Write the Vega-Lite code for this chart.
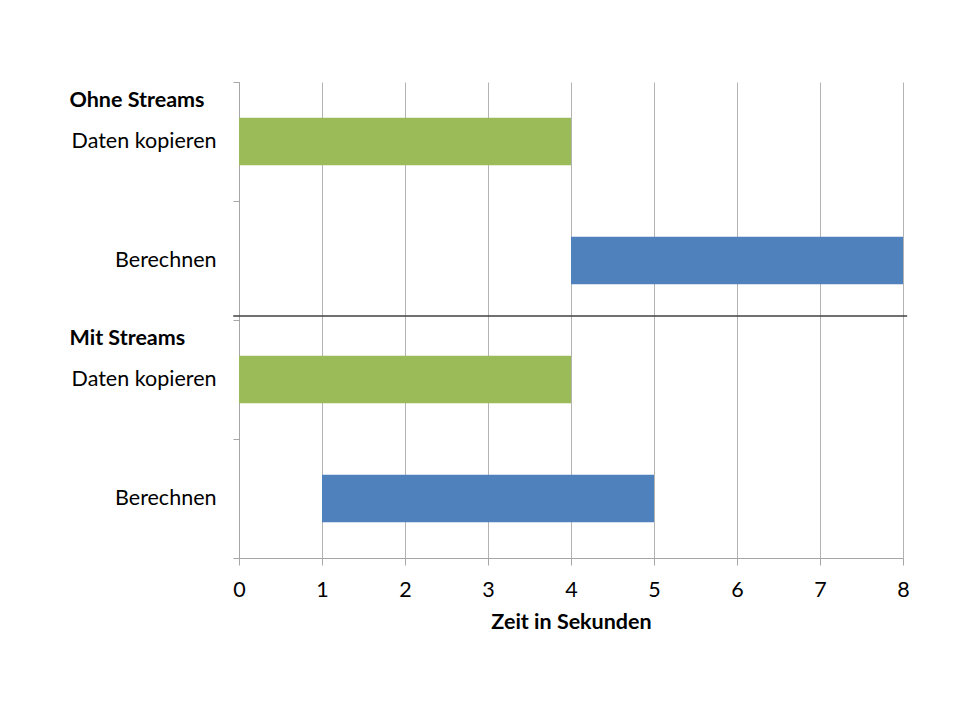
{
  "$schema": "https://vega.github.io/schema/vega-lite/v6.json",
  "autosize": "none",
  "width": 664,
  "height": 476,
  "padding": {"left": 239, "top": 82, "right": 57, "bottom": 167},
  "background": "white",
  "config": {
    "font": "Lato",
    "view": {"stroke": null},
    "axis": {"labelFont": "Lato", "titleFont": "Lato", "labelColor": "#000000", "titleColor": "#000000"}
  },
  "datasets": {
    "tasks": [
      {"row": "Ohne Streams|Daten kopieren", "task": "Daten kopieren", "start": 0, "end": 4},
      {"row": "Ohne Streams|Berechnen", "task": "Berechnen", "start": 4, "end": 8},
      {"row": "Mit Streams|Daten kopieren", "task": "Daten kopieren", "start": 0, "end": 4},
      {"row": "Mit Streams|Berechnen", "task": "Berechnen", "start": 1, "end": 5}
    ],
    "divider": [
      {"row": "Mit Streams|Daten kopieren", "from": -0.07, "to": 8.05}
    ]
  },
  "layer": [
    {
      "data": {"name": "tasks"},
      "mark": {"type": "bar", "height": {"band": 0.4}, "cornerRadius": 0},
      "encoding": {
        "y": {
          "field": "row",
          "type": "nominal",
          "sort": null,
          "scale": {
            "domain": ["Ohne Streams|Daten kopieren", "Ohne Streams|Berechnen", "Mit Streams|Daten kopieren", "Mit Streams|Berechnen"],
            "paddingInner": 0,
            "paddingOuter": 0
          },
          "axis": {
            "title": null,
            "orient": "left",
            "labelExpr": "split(datum.value, '|')[1]",
            "labelFontSize": 21.5,
            "labelAlign": "right",
            "labelBaseline": "middle",
            "labelPadding": 17,
            "labelOverlap": false,
            "labelLimit": 300,
            "tickBand": "extent",
            "tickSize": 6,
            "tickColor": "#a6a6a6",
            "domainColor": "#a6a6a6",
            "grid": false
          }
        },
        "x": {
          "field": "start",
          "type": "quantitative",
          "scale": {"domain": [0, 8], "nice": false, "zero": true},
          "axis": {
            "title": "Zeit in Sekunden",
            "titleFontSize": 21.5,
            "titleFontWeight": "bold",
            "titlePadding": 11,
            "values": [0, 1, 2, 3, 4, 5, 6, 7, 8],
            "format": "d",
            "labelFontSize": 21.5,
            "labelPadding": 14,
            "labelFlush": false,
            "labelOverlap": false,
            "tickSize": 7,
            "tickColor": "#a6a6a6",
            "domainColor": "#a6a6a6",
            "grid": true,
            "gridColor": "#b3b3b3",
            "gridWidth": 1
          }
        },
        "x2": {"field": "end"},
        "color": {
          "field": "task",
          "type": "nominal",
          "scale": {"domain": ["Daten kopieren", "Berechnen"], "range": ["#9bbb59", "#4f81bd"]},
          "legend": null
        }
      }
    },
    {
      "data": {"name": "divider"},
      "mark": {"type": "rule", "color": "#404040", "strokeWidth": 1.5, "yOffset": -4},
      "encoding": {
        "y": {
          "field": "row",
          "type": "nominal",
          "bandPosition": 0,
          "axis": {
            "title": null,
            "orient": "left",
            "labelExpr": "datum.value == 'Ohne Streams|Daten kopieren' ? 'Ohne Streams' : (datum.value == 'Mit Streams|Daten kopieren' ? 'Mit Streams' : '')",
            "labelFontSize": 21.5,
            "labelFontWeight": "bold",
            "labelAlign": "left",
            "labelBaseline": "middle",
            "labelPadding": 170,
            "labelOffset": -41,
            "labelOverlap": false,
            "labelLimit": 300,
            "ticks": false,
            "tickSize": 0,
            "domain": false,
            "grid": false
          }
        },
        "x": {"field": "from", "type": "quantitative"},
        "x2": {"field": "to"}
      }
    }
  ],
  "resolve": {"axis": {"y": "independent"}}
}
